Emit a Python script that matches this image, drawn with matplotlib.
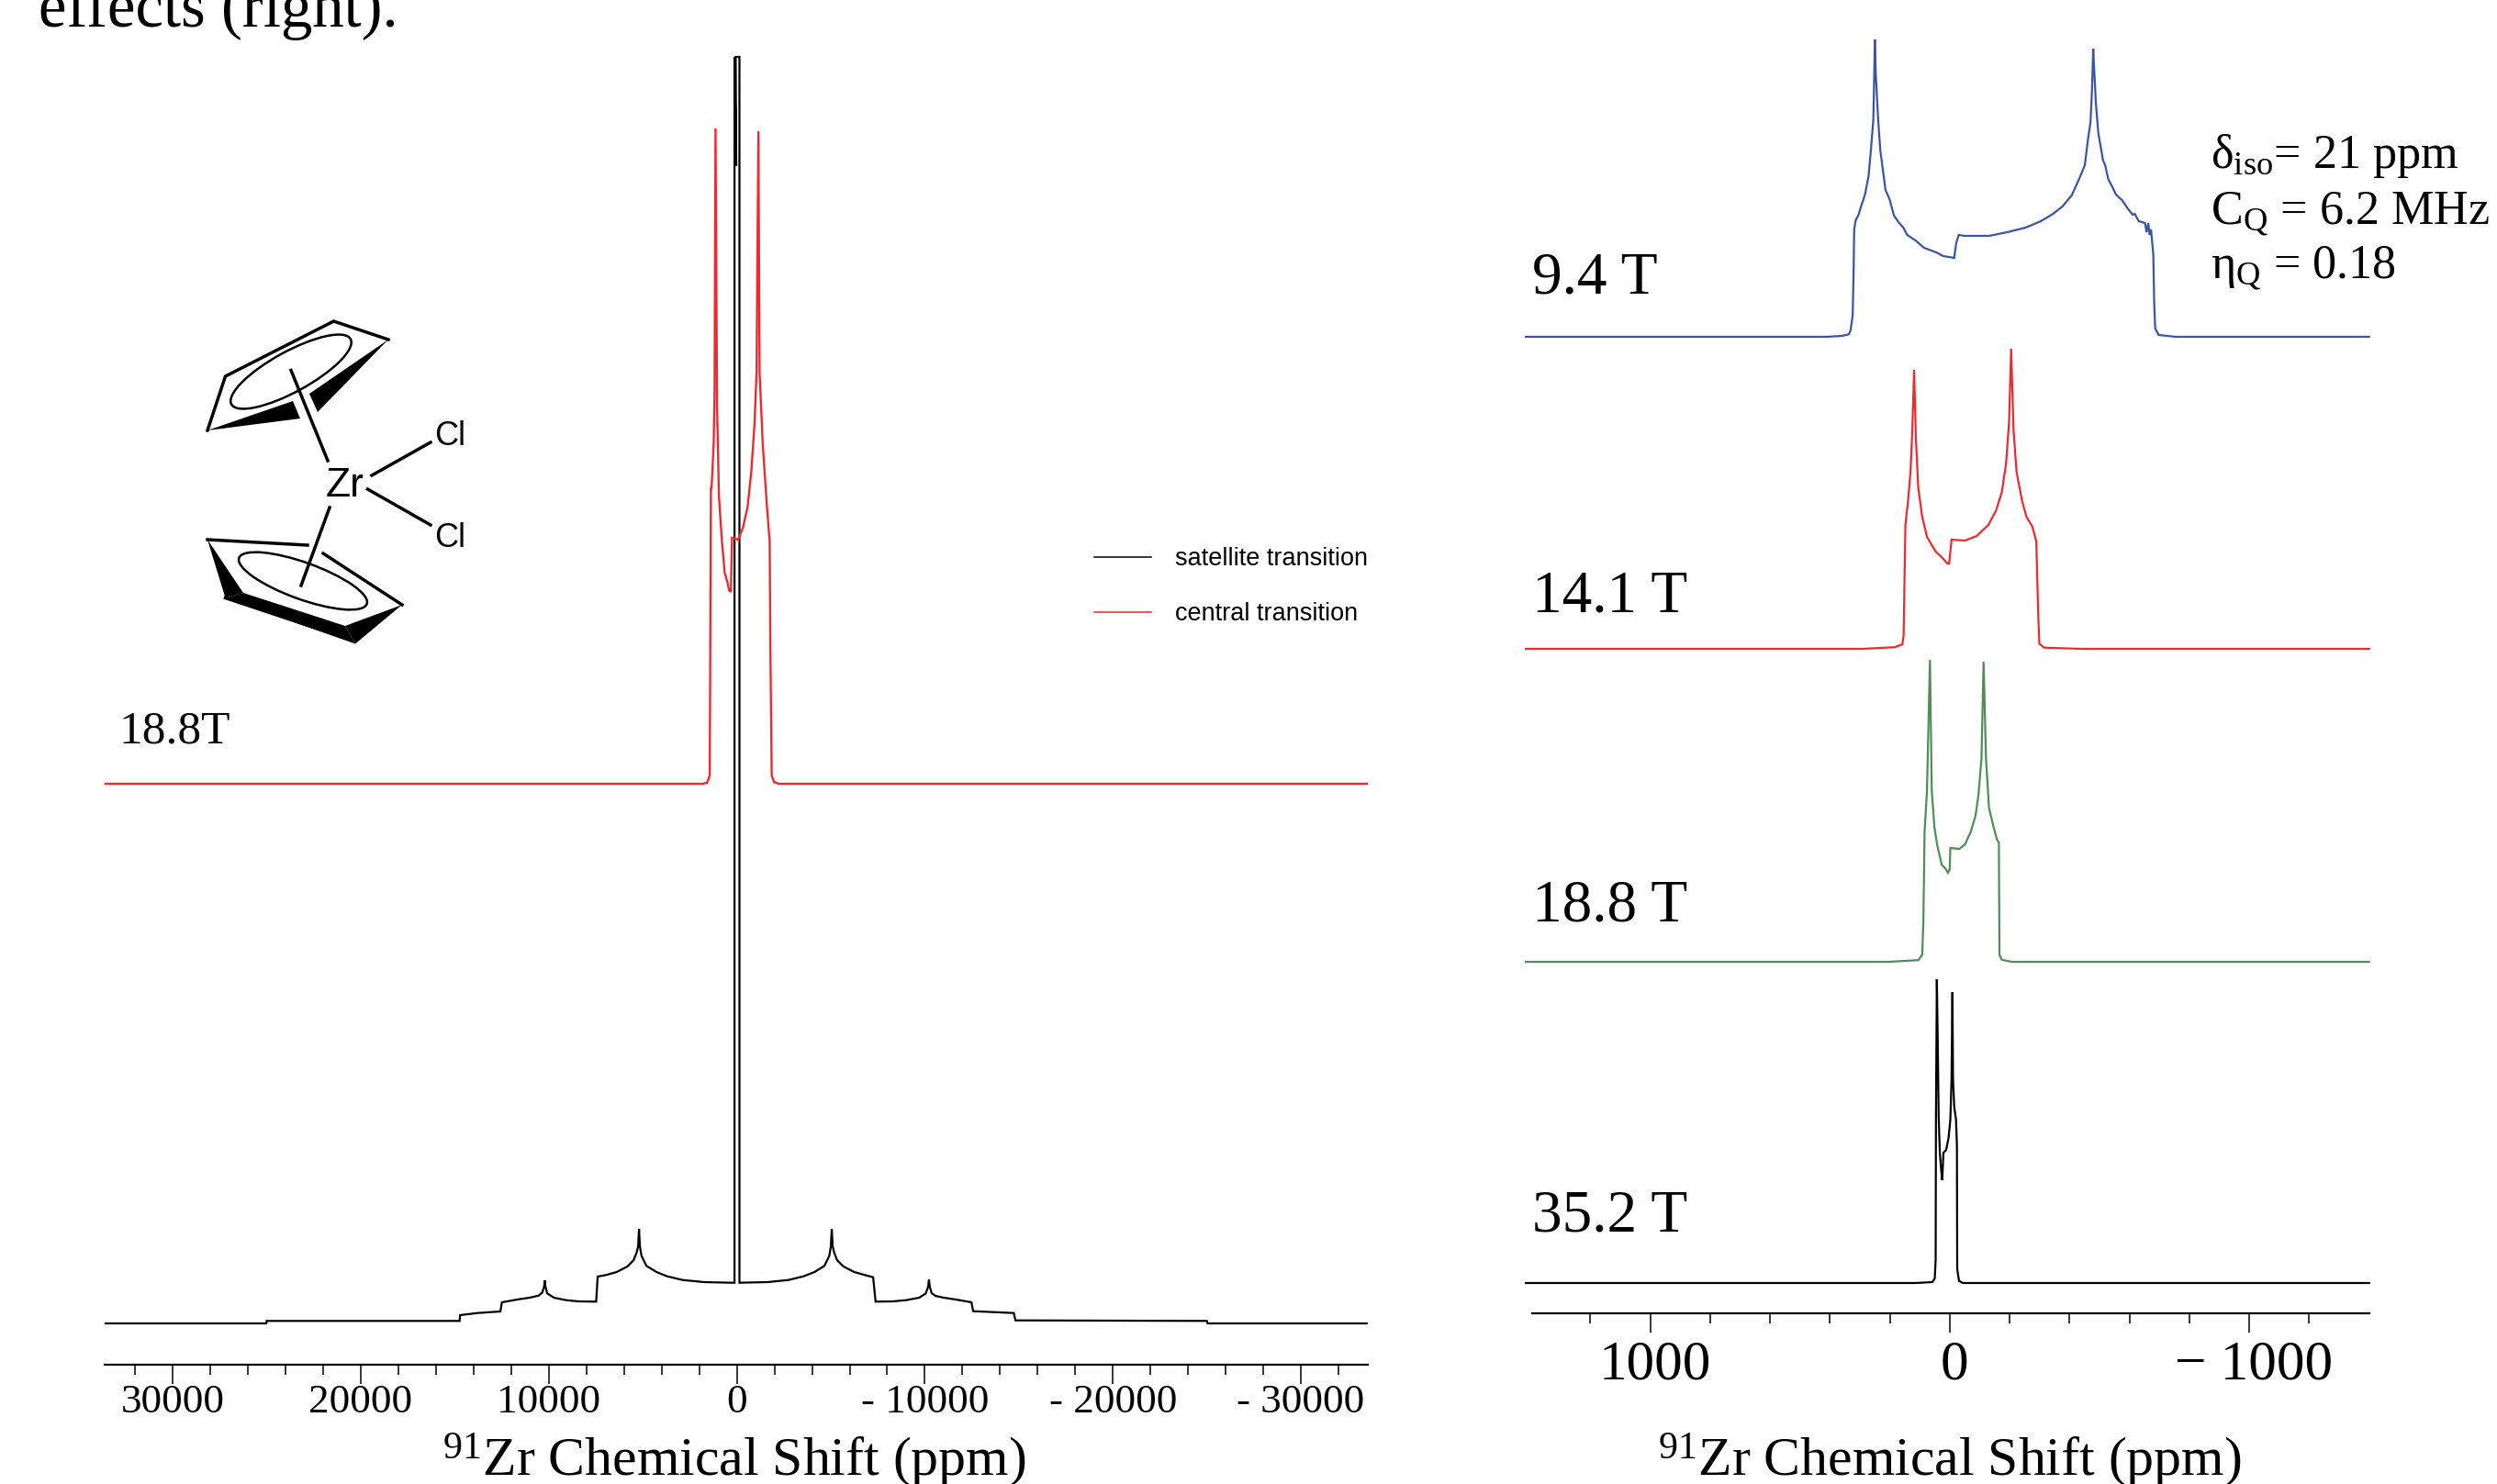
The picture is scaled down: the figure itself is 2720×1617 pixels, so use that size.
import matplotlib
matplotlib.use("Agg")
import matplotlib.pyplot as plt
from matplotlib.patches import Ellipse, Polygon
from matplotlib.transforms import ScaledTranslation

plt.rcParams["font.family"] = ["Liberation Serif", "DejaVu Serif"]
plt.rcParams["mathtext.fontset"] = "custom"
plt.rcParams["mathtext.rm"] = "Liberation Serif"
plt.rcParams["mathtext.default"] = "rm"

W, H = 2720, 1617

# left panel, 18.8 T, x in ppm, y in picture heights above each trace's own baseline
sat_ppm = [33620, 25020, 25000, 14740, 14720, 13795, 12574, 12492, 11678, 11027, 10540, 10344, 10246, 10213, 10180,
           10084, 9725, 9075, 8425, 7528, 7480, 7400, 6958, 6388, 5819, 5493, 5331, 5249, 5200, 5151, 5070, 4810,
           4273, 3703, 2889, 1750, 285, 122, 122, 30, 60, -140, -140, -1650, -2750, -3550, -4130, -4660, -4920,
           -5000, -5050, -5100, -5180, -5340, -5670, -6240, -6810, -7250, -7380, -8300, -9000, -9700, -10050,
           -10180, -10220, -10260, -10360, -10560, -11000, -11650, -12480, -12570, -14730, -14820, -25000, -25040,
           -33620]
sat_int = [0, 0, 2.7, 2.7, 9, 11.3, 13, 23, 26, 28, 30.3, 33.7, 40.3, 47, 40.3,
           32.7, 28, 25.3, 24, 23.7, 23.7, 51, 52.7, 56, 62, 68.7, 77, 83.7, 102.7, 83.7, 73.7, 62.7,
           56, 51.3, 47.3, 45, 44.3, 44.3, 1380, 1261, 1380, 1380, 44.3, 45, 47.3, 51.3, 56, 62.7, 73.7,
           83.7, 102.7, 83.7, 77, 68.7, 62, 56, 52.7, 50.3, 23.7, 24, 25.3, 28, 32.7,
           40.3, 47.7, 40.3, 33, 30, 28, 26, 23, 13.3, 11.3, 3.3, 2.7, 0,
           0]
ct_ppm = [33620, 1831, 1587, 1440, 1378, 1343, 1231, 1182, 1133, 1050, 952, 806, 645, 479, 415, 317, 254, -73,
          -332, -576, -772, -938, -1050, -1148, -1211, -1377, -1587, -1748, -1782, -1856, -1978, -2222, -33620]
ct_int = [0, 0, 1, 9, 322, 322, 371, 429, 714, 410, 314, 268, 230, 218, 211, 209, 268, 266,
          279.5, 302, 341, 391, 448, 711, 448, 371, 306, 264, 154, 9, 2, 0, 0]
ct_offset = 588

left_ticks = [30000, 20000, 10000, 0, -10000, -20000, -30000]
left_labels = ["30000", "20000", "10000", "0", "- 10000", "- 20000", "- 30000"]
left_minor = list(range(-32000, 34000, 2000))

# right panel, field series
ppm_94 = [1415, 411, 360, 337, 331, 324, 321, 319, 314, 305.5, 296, 283, 271, 263, 255, 252, 250, 247, 239, 232, 224,
          214.5, 201, 186, 171, 155, 142, 114, 86, 45, 22, -15, -21.5, -30, -49, -131, -192, -253.5, -304, -345, -376,
          -407, -432, -451, -461, -470, -475, -479, -483, -488, -496, -504, -512, -519, -529, -545, -555, -575, -596,
          -611, -618, -631, -652, -657, -663, -667, -672, -679.5, -682.6, -686, -698, -754, -1400]
int_94 = [0, 0, 1, 2.7, 7, 23.7, 70, 117, 127, 132, 142, 155, 175, 204, 237, 287, 324, 287, 237, 204, 184,
          160, 150, 132, 125, 119, 111, 105, 97, 92, 88, 86, 102, 111, 110, 110, 114, 119, 126, 134, 142,
          154, 172, 187, 214, 234, 270, 314, 287, 254, 222, 207, 192, 187, 172, 162, 155, 149, 139,
          133, 134, 126, 124, 114, 124, 111, 117, 90, 37, 9, 2, 0, 0]
ppm_141 = [1415, 291, 184, 158, 154, 148, 139, 131, 125, 119, 113, 105, 92, 76, 47, 27, 8, 2, -6, -51, -90, -129,
           -155, -174, -188, -198, -205, -213, -223, -241, -256, -276, -289, -295, -299, -315, -442, -1400]
int_141 = [0, 0, 1.8, 4.9, 14.7, 135, 162, 193, 238, 304, 229, 175, 144, 122, 106, 100, 93, 93, 119, 118, 123, 135,
           151, 171, 202, 247, 327, 238, 193, 162, 144, 133, 117, 41.5, 5.8, 1.3, 0, 0]
ppm_188 = [1415, 203, 105, 92, 88, 84, 76, 66, 60, 51, 41, 27, 13, 6, 0, -2, -32, -51, -70, -86, -96, -106, -113,
           -121, -131, -147, -158, -164, -166, -174, -207, -1400]
int_188 = [0, 0, 1.8, 7.6, 43, 141.5, 186, 329, 186, 146, 126, 106, 101, 97, 101, 124, 123, 128, 141.5, 159, 182, 222,
           327, 222, 168, 146, 133, 130, 7.6, 2.2, 0, 0]
ppm_352 = [1415, 114, 58, 50, 47, 46, 43, 40, 37, 33, 29, 25, 21, 12, 4, -2, -6, -9, -11, -15, -21, -24, -25, -31,
           -44, -1400]
int_352 = [0, 0, 1, 5, 25, 182, 331, 262, 182, 142, 125, 112, 142, 145, 158, 178, 222, 317, 222, 192, 178, 150, 15,
           2.3, 0, 0]

series_ppm = [ppm_94, ppm_141, ppm_188, ppm_352]
series_int = [int_94, int_141, int_188, int_352]
series_offset = [1031, 691, 350, 0]
series_color = ["#3b55a5", "#ee2a30", "#4f8e57", "#000000"]
series_names = ["9.4 T", "14.1 T", "18.8 T", "35.2 T"]
name_baseline = [320, 666, 1003, 1341]

right_ticks = [1000, 0, -1000]
right_labels = ["1000", "0", "\u2212 1000"]
right_minor = list(range(-1200, 1400, 200))

x_title = "$^{91}$Zr Chemical Shift (ppm)"


def px_axes(fig, x0, x1, y_top, y_bot):
    return fig.add_axes([x0 / W, 1 - y_bot / H, (x1 - x0) / W, (y_bot - y_top) / H])


def dress(ax, ticks, labels, minor, label_size):
    for s in ["top", "left", "right"]:
        ax.spines[s].set_visible(False)
    ax.spines["bottom"].set_linewidth(1.6)
    ax.patch.set_alpha(0)
    ax.set_yticks([])
    ax.set_xticks(ticks)
    ax.set_xticklabels(labels)
    ax.set_xticks(minor, minor=True)
    ax.tick_params(axis="x", which="major", length=15, width=1.1, labelsize=label_size)
    ax.tick_params(axis="x", which="minor", length=8, width=1.1)


def place_title(ax, x_px, y_px):
    ax.set_xlabel(x_title, fontsize=43, va="center")
    ax.xaxis.set_label_coords(x_px / W, 1 - y_px / H, transform=fig.transFigure)


fig = plt.figure(figsize=(W / 100, H / 100), dpi=100, facecolor="white")

# left panel
ax1 = px_axes(fig, 114, 1490, 20, 1487)
ax1.set_xlim(33620, -33560)
ax1.set_ylim(-45, 1422)
ax1.plot(sat_ppm, sat_int, color="black", lw=1.6, solid_joinstyle="miter", label="satellite transition")
ax1.plot(ct_ppm, [v + ct_offset for v in ct_int], color="#ee2a30", lw=1.7, solid_joinstyle="miter",
         label="central transition")
dress(ax1, left_ticks, left_labels, left_minor, 32.5)
ax1.tick_params(axis="x", which="major", pad=0)
place_title(ax1, 800, 1592)
leg = ax1.legend(loc="upper left", bbox_to_anchor=(1192 / W, 1 - 596 / H), bbox_transform=fig.transFigure,
                 frameon=False, borderpad=0, borderaxespad=0, handlelength=2.3, handletextpad=0.95, labelspacing=1.26,
                 prop={"family": "Liberation Sans", "size": 19.5})
for line in leg.get_lines():
    line.set_linewidth(1.1)

# right panel
ax2 = px_axes(fig, 1669, 2581, 20, 1431)
ax2.set_xlim(1394, -1401)
ax2.set_ylim(-33, 1378)
for p, v, off, col in zip(series_ppm, series_int, series_offset, series_color):
    ax2.plot(p, [a + off for a in v], color=col, lw=1.6, solid_joinstyle="miter", clip_on=False)
dress(ax2, right_ticks, right_labels, right_minor, 44)
ax2.tick_params(axis="x", which="major", pad=6)
for lab in ax2.get_xticklabels():
    lab.set_transform(lab.get_transform() + ScaledTranslation(5 / 100, 0, fig.dpi_scale_trans))
place_title(ax2, 2124, 1592)

# text
fig.text(42 / W, 1 - 29 / H, "effects (right).", fontsize=49.5, va="baseline")
fig.text(129 / W, 1 - 809 / H, "18.8T", fontsize=37, va="baseline")
for name, yb in zip(series_names, name_baseline):
    fig.text(1669 / W, 1 - yb / H, name, fontsize=47, va="baseline")
fig.text(2408 / W, 1 - 183 / H, "\u03b4$_{iso}$= 21 ppm", fontsize=37.5, va="baseline")
fig.text(2408 / W, 1 - 243 / H, "C$_Q$ = 6.2 MHz", fontsize=37.5, va="baseline")
fig.text(2408 / W, 1 - 302 / H, "\u03b7$_Q$ = 0.18", fontsize=37.5, va="baseline")

# zirconocene sketch, in picture pixels on its own overlay
mol = fig.add_axes([0, 0, 1, 1])
mol.set_xlim(0, W)
mol.set_ylim(H, 0)
mol.axis("off")
mol.patch.set_alpha(0)

bonds = [
    [(226, 469), (245.5, 410), (363.5, 350), (423, 370)],
    [(317, 403.5), (357, 502)],
    [(335, 594), (226, 588)],
    [(352, 603), (438, 659)],
    [(245.5, 651.5), (376, 695)],
    [(359, 553), (328, 638)],
    [(405, 518), (469, 482)],
    [(400.5, 533), (469, 572)],
]
for b in bonds:
    mol.plot([q[0] for q in b], [q[1] for q in b], color="black", lw=2.5)

wedges = [
    [(423, 370), (337, 429), (346, 449)],
    [(226, 469), (319, 437), (327, 456)],
    [(226, 588), (245.5, 651.5), (265, 646)],
    [(245.5, 651.5), (265, 646), (376, 682), (387, 701.5)],
    [(376, 682), (438, 659), (387, 701.5)],
]
for w in wedges:
    mol.add_patch(Polygon(w, closed=True, color="black", lw=0))

mol.add_patch(Ellipse((317, 405), 148, 44, angle=-28.7, fill=False, ec="black", lw=1.8))
mol.add_patch(Ellipse((330, 633), 148, 40, angle=19.8, fill=False, ec="black", lw=1.8))
mol.text(376, 529, "Zr", family="Liberation Sans", fontsize=32, ha="center", va="center")
mol.text(490, 475, "Cl", family="Liberation Sans", fontsize=26, ha="center", va="center")
mol.text(490, 586, "Cl", family="Liberation Sans", fontsize=26, ha="center", va="center")

fig.savefig("out.png", dpi=100)
